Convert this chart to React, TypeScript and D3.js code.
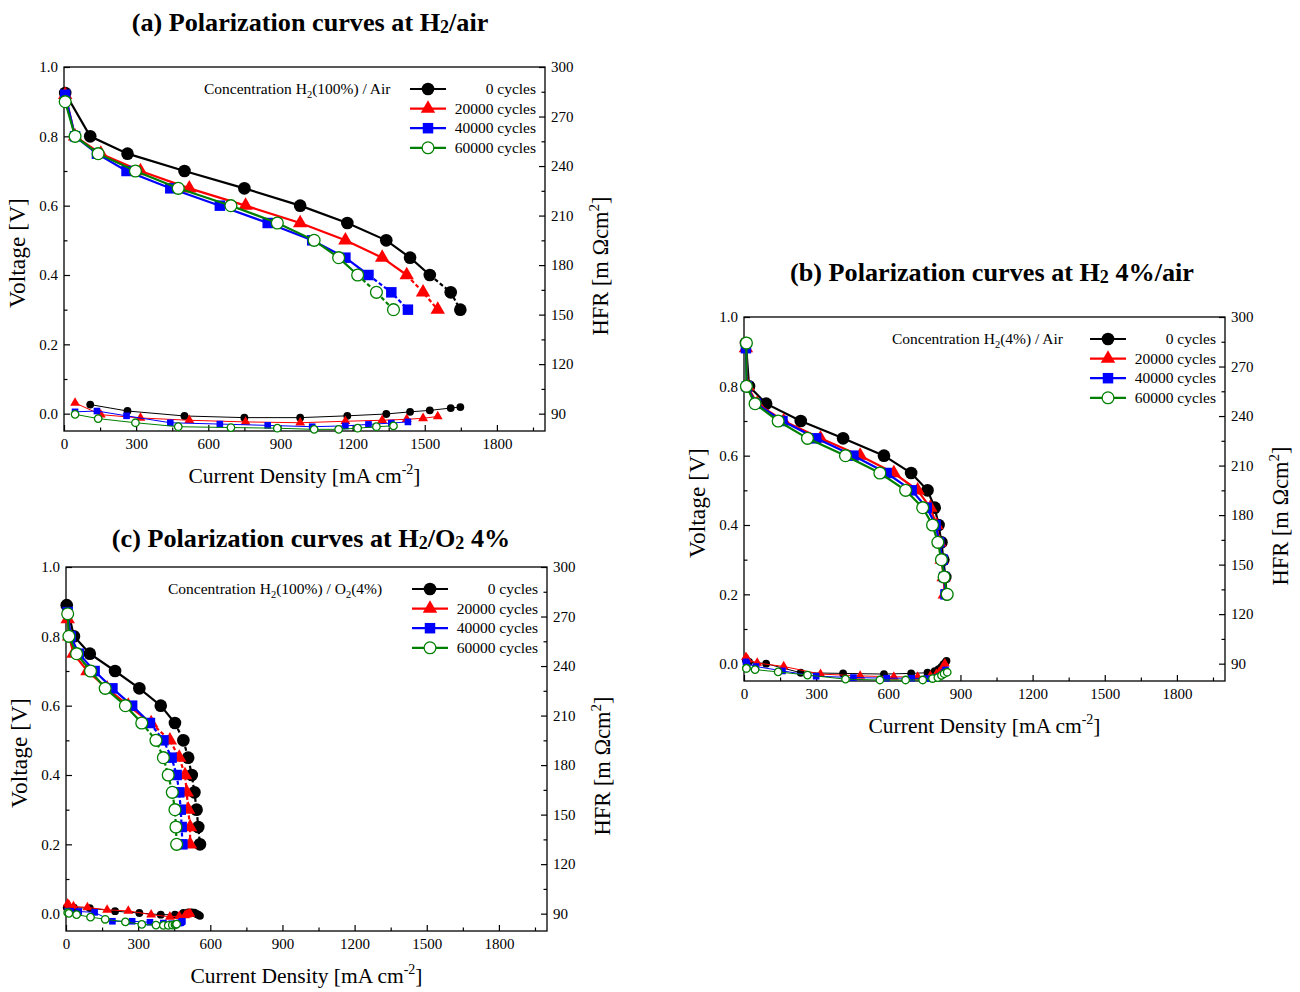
import React, { useEffect, useRef } from 'react';
import * as d3 from 'd3';

// shared series info
const seriesNames = ['0 cycles', '20000 cycles', '40000 cycles', '60000 cycles'];
const seriesColors = ['#000000', '#ff0000', '#0000ff', '#008000'];
const seriesShapes = ['circle', 'triangle', 'square', 'open'];

const xTicks = [0, 300, 600, 900, 1200, 1500, 1800];
const vTicks = [0.0, 0.2, 0.4, 0.6, 0.8, 1.0];
const hfrTicks = [90, 120, 150, 180, 210, 240, 270, 300];

// (a) H2/air  -- current [mA cm-2], voltage [V], HFR [mOhm cm2]
const aCurrent = [
  [5, 109, 264, 501, 750, 982, 1178, 1340, 1439, 1521, 1608, 1648],
  [5, 46, 153, 318, 521, 755, 982, 1170, 1323, 1425, 1493, 1554],
  [5, 46, 137, 260, 442, 648, 847, 1032, 1170, 1266, 1361, 1430],
  [5, 46, 142, 297, 475, 694, 887, 1040, 1142, 1221, 1299, 1370],
];
const aVoltage = [
  [0.925, 0.8, 0.75, 0.7, 0.65, 0.6, 0.55, 0.5, 0.45, 0.4, 0.35, 0.3],
  [0.92, 0.8, 0.75, 0.7, 0.65, 0.6, 0.55, 0.5, 0.45, 0.4, 0.35, 0.3],
  [0.92, 0.8, 0.75, 0.7, 0.65, 0.6, 0.55, 0.5, 0.45, 0.4, 0.35, 0.3],
  [0.9, 0.8, 0.75, 0.7, 0.65, 0.6, 0.55, 0.5, 0.45, 0.4, 0.35, 0.3],
];
const aHfr = [
  [null, 95.5, 91.6, 88.6, 87.6, 87.6, 88.7, 89.8, 91.1, 92.0, 93.4, 94.0],
  [null, 96.5, 89.4, 87.4, 86.0, 85.0, 84.5, 85.4, 86.0, 86.6, 87.2, 88.3],
  [null, 91.1, 91.6, 88.7, 84.5, 83.7, 82.9, 82.1, 82.6, 83.5, 84.3, 85.0],
  [null, 89.6, 87.0, 84.5, 82.1, 81.6, 81.2, 80.5, 80.5, 81.2, 82.1, 82.6],
];

// (b) H2 4%/air
const bCurrent = [
  [8, 21, 92, 236, 412, 582, 695, 763, 793, 809, 821, 829, 837, 842],
  [8, 15, 55, 165, 318, 483, 623, 722, 775, 800, 812, 822, 830, 835],
  [8, 12, 50, 160, 300, 455, 593, 697, 760, 797, 812, 826, 832, 838],
  [10, 10, 46, 142, 264, 422, 565, 672, 743, 784, 806, 821, 832, 845],
];
const bVoltage = [
  [0.925, 0.8, 0.75, 0.7, 0.65, 0.6, 0.55, 0.5, 0.45, 0.4, 0.35, 0.3, 0.25, 0.2],
  [0.91, 0.8, 0.75, 0.7, 0.65, 0.6, 0.55, 0.5, 0.45, 0.4, 0.35, 0.3, 0.25, 0.2],
  [0.91, 0.8, 0.75, 0.7, 0.65, 0.6, 0.55, 0.5, 0.45, 0.4, 0.35, 0.3, 0.25, 0.2],
  [0.925, 0.8, 0.75, 0.7, 0.65, 0.6, 0.55, 0.5, 0.45, 0.4, 0.35, 0.3, 0.25, 0.2],
];
const bHfr = [
  [92.1, 91.1, 90.0, 84.5, 84.1, 83.7, 84.1, 84.5, 85.4, 86.6, 88.1, 89.6, 90.6, 91.7],
  [94.0, 92.5, 90.4, 88.3, 83.7, 82.6, 82.0, 82.0, 82.6, 83.7, 85.0, 86.6, 88.3, 90.0],
  [91.1, 90.0, 88.3, 85.6, 82.4, 81.6, 81.2, 81.2, 81.0, 81.6, 82.4, 83.5, 84.8, 86.2],
  [87.3, 87.1, 86.4, 85.0, 83.1, 80.6, 80.1, 80.1, 80.1, 81.0, 81.6, 82.9, 83.9, 84.8],
];

// (c) H2/O2 4%
const cCurrent = [
  [3, 33, 99, 204, 305, 394, 453, 488, 508, 523, 534, 543, 550, 557],
  [7, 13, 31, 89, 171, 259, 354, 432, 471, 495, 502, 508, 516, 516],
  [7, 20, 53, 119, 193, 275, 349, 405, 439, 460, 471, 477, 481, 484],
  [7, 12, 44, 102, 163, 247, 315, 374, 405, 425, 442, 453, 457, 460],
];
const cVoltage = [
  [0.89, 0.8, 0.75, 0.7, 0.65, 0.6, 0.55, 0.5, 0.45, 0.4, 0.35, 0.3, 0.25, 0.2],
  [0.85, 0.8, 0.75, 0.7, 0.65, 0.6, 0.55, 0.5, 0.45, 0.4, 0.35, 0.3, 0.25, 0.2],
  [0.87, 0.8, 0.75, 0.7, 0.65, 0.6, 0.55, 0.5, 0.45, 0.4, 0.35, 0.3, 0.25, 0.2],
  [0.865, 0.8, 0.75, 0.7, 0.65, 0.6, 0.55, 0.5, 0.45, 0.4, 0.35, 0.3, 0.25, 0.2],
];
const cHfr = [
  [93.8, 93.6, 93.4, 91.5, 90.4, 89.4, 89.4, 90.4, 90.8, 90.8, 90.6, 89.8, 89.4, 88.7],
  [96.1, 95.0, 94.4, 93.8, 92.3, 91.7, 89.4, 88.1, 88.5, 89.0, 89.4, 89.8, 90.0, 90.0],
  [91.5, 91.5, 91.3, 90.8, 85.4, 85.4, 84.8, 84.3, 83.9, 83.9, 84.3, 84.5, 85.0, 85.4],
  [90.6, 90.2, 89.4, 87.9, 86.6, 85.0, 83.5, 83.1, 82.9, 82.9, 83.1, 83.3, 83.5, 83.7],
];

// text pieces, odd entries are subscripts
const aTitle = ['(a) Polarization curves at H', '2', '/air'];
const bTitle = ['(b) Polarization curves at H', '2', ' 4%/air'];
const cTitle = ['(c) Polarization curves at H', '2', '/O', '2', ' 4%'];
const aConc = ['Concentration H', '2', '(100%) / Air'];
const bConc = ['Concentration H', '2', '(4%) / Air'];
const cConc = ['Concentration H', '2', '(100%) / O', '2', '(4%)'];

const W = 481;
const H = 364;
const FONT = '"Liberation Serif", "Times New Roman", serif';

interface PanelSpec {
  left: number;
  top: number;
  titleX: number;
  titleY: number;
  title: string[];
  conc: string[];
  concX: number;
  current: number[][];
  voltage: number[][];
  hfr: (number | null)[][];
  dashBelow: number | null;
}

const panels: PanelSpec[] = [
  { left: 64, top: 67, titleX: 310, titleY: 31, title: aTitle, conc: aConc, concX: 140,
    current: aCurrent, voltage: aVoltage, hfr: aHfr, dashBelow: 0.4 },
  { left: 744, top: 317, titleX: 992, titleY: 281, title: bTitle, conc: bConc, concX: 148,
    current: bCurrent, voltage: bVoltage, hfr: bHfr, dashBelow: null },
  { left: 66, top: 567, titleX: 311, titleY: 547, title: cTitle, conc: cConc, concX: 102,
    current: cCurrent, voltage: cVoltage, hfr: cHfr, dashBelow: 0.55 },
];

function addPieces(text: any, parts: string[], subSize: number, dy: number) {
  parts.forEach((t, i) => {
    const sp = text.append('tspan').text(t);
    if (i % 2 === 1) sp.attr('font-size', subSize).attr('dy', dy);
    else if (i > 0) sp.attr('dy', -dy);
  });
}

function drawMarker(g: any, shape: string, color: string, cx: number, cy: number, big: boolean) {
  const sizes: Record<string, number> = big
    ? { circle: 125, triangle: 90, square: 110, open: 110 }
    : { circle: 48, triangle: 42, square: 44, open: 44 };
  const type = shape === 'triangle' ? d3.symbolTriangle : shape === 'square' ? d3.symbolSquare : d3.symbolCircle;
  g.append('path')
    .attr('d', d3.symbol().type(type).size(sizes[shape])())
    .attr('transform', `translate(${cx},${cy})`)
    .attr('fill', shape === 'open' ? '#ffffff' : color)
    .attr('stroke', shape === 'open' ? color : 'none')
    .attr('stroke-width', 1.3);
}

function drawPanel(root: any, p: PanelSpec) {
  const g = root.append('g');
  const x = d3.scaleLinear().domain([0, 2000]).range([p.left, p.left + W]);
  const y = d3.scaleLinear().domain([-0.05, 1]).range([p.top + H, p.top]);
  const yR = d3.scaleLinear().domain([79.5, 300]).range([p.top + H, p.top]);

  const styleAxis = (sel: any) => {
    sel.attr('font-family', FONT).attr('font-size', 15);
    sel.selectAll('text').attr('fill', '#000');
    sel.selectAll('line').attr('stroke', '#000').attr('stroke-width', 1.2);
    sel.select('.domain').remove();
  };

  // major + minor ticks
  g.append('g').attr('transform', `translate(0,${p.top + H})`)
    .call(d3.axisBottom(x).tickValues(xTicks).tickSize(-6).tickSizeOuter(0).tickPadding(7).tickFormat(d3.format('d')))
    .call(styleAxis);
  g.append('g').attr('transform', `translate(0,${p.top + H})`)
    .call(d3.axisBottom(x).tickValues(d3.range(150, 2000, 300)).tickSize(-3.5).tickFormat(() => ''))
    .call(styleAxis);
  g.append('g').attr('transform', `translate(${p.left},0)`)
    .call(d3.axisLeft(y).tickValues(vTicks).tickSize(-6).tickPadding(6).tickFormat(d3.format('.1f')))
    .call(styleAxis);
  g.append('g').attr('transform', `translate(${p.left},0)`)
    .call(d3.axisLeft(y).tickValues([0.1, 0.3, 0.5, 0.7, 0.9]).tickSize(-3.5).tickFormat(() => ''))
    .call(styleAxis);
  g.append('g').attr('transform', `translate(${p.left + W},0)`)
    .call(d3.axisRight(yR).tickValues(hfrTicks).tickSize(-6).tickPadding(6).tickFormat(d3.format('d')))
    .call(styleAxis);
  g.append('g').attr('transform', `translate(${p.left + W},0)`)
    .call(d3.axisRight(yR).tickValues(d3.range(105, 300, 30)).tickSize(-3.5).tickFormat(() => ''))
    .call(styleAxis);

  g.append('rect')
    .attr('x', p.left).attr('y', p.top).attr('width', W).attr('height', H)
    .attr('fill', 'none').attr('stroke', '#000').attr('stroke-width', 1.3);

  // titles
  const t = g.append('text').attr('x', p.titleX).attr('y', p.titleY)
    .attr('text-anchor', 'middle').attr('font-family', FONT).attr('font-weight', 'bold').attr('font-size', 26.2);
  addPieces(t, p.title, 18, 2);

  g.append('text')
    .attr('x', p.left + W / 2).attr('y', p.top + H + 52)
    .attr('text-anchor', 'middle').attr('font-family', FONT).attr('font-size', 21.5)
    .call((s: any) => {
      s.append('tspan').text('Current Density [mA cm');
      s.append('tspan').text('-2').attr('font-size', 14).attr('dy', -9);
      s.append('tspan').text(']').attr('dy', 9);
    });

  g.append('text')
    .attr('transform', `translate(${p.left - 39},${p.top + 186}) rotate(-90)`)
    .attr('text-anchor', 'middle').attr('font-family', FONT).attr('font-size', 23.5)
    .text('Voltage [V]');

  g.append('text')
    .attr('transform', `translate(${p.left + W + 63},${p.top + 199}) rotate(-90)`)
    .attr('text-anchor', 'middle').attr('font-family', FONT).attr('font-size', 22.5)
    .call((s: any) => {
      s.append('tspan').text('HFR [m  Ωcm');
      s.append('tspan').text('2').attr('font-size', 15).attr('dy', -9);
      s.append('tspan').text(']').attr('dy', 9);
    });

  // data
  const line = d3.line<[number, number]>().x(d => x(d[0])).y(d => y(d[1]));
  const lineR = d3.line<[number, number]>().x(d => x(d[0])).y(d => yR(d[1]));

  seriesNames.forEach((_, s) => {
    const color = seriesColors[s];
    const hpts: [number, number][] = [];
    p.current[s].forEach((c, i) => {
      const h = p.hfr[s][i];
      if (h !== null && h !== undefined) hpts.push([c, h]);
    });
    g.append('path').attr('d', lineR(hpts)).attr('fill', 'none').attr('stroke', color).attr('stroke-width', 1);
    hpts.forEach(d => drawMarker(g, seriesShapes[s], color, x(d[0]), yR(d[1]), false));
  });

  seriesNames.forEach((_, s) => {
    const color = seriesColors[s];
    const pts: [number, number][] = p.current[s].map((c, i) => [c, p.voltage[s][i]]);
    if (p.dashBelow === null) {
      g.append('path').attr('d', line(pts)).attr('fill', 'none').attr('stroke', color).attr('stroke-width', 2.2);
    } else {
      const solid = pts.filter(d => d[1] >= p.dashBelow! - 1e-9);
      const dashed = pts.filter(d => d[1] <= p.dashBelow! + 1e-9);
      g.append('path').attr('d', line(solid)).attr('fill', 'none').attr('stroke', color).attr('stroke-width', 2.2);
      g.append('path').attr('d', line(dashed)).attr('fill', 'none').attr('stroke', color)
        .attr('stroke-width', 2.2).attr('stroke-dasharray', '4,2.5');
    }
    pts.forEach(d => drawMarker(g, seriesShapes[s], color, x(d[0]), y(d[1]), true));
  });

  // legend
  const ly0 = p.top + 22;
  const conc = g.append('text').attr('x', p.left + p.concX).attr('y', ly0 + 5)
    .attr('font-family', FONT).attr('font-size', 15.5);
  addPieces(conc, p.conc, 10.5, 4);
  seriesNames.forEach((name, s) => {
    const ly = ly0 + s * 19.6;
    g.append('line').attr('x1', p.left + 346).attr('x2', p.left + 382).attr('y1', ly).attr('y2', ly)
      .attr('stroke', seriesColors[s]).attr('stroke-width', 2.2);
    drawMarker(g, seriesShapes[s], seriesColors[s], p.left + 364, ly, true);
    g.append('text').attr('x', p.left + 472).attr('y', ly + 5)
      .attr('text-anchor', 'end').attr('font-family', FONT).attr('font-size', 15.5).text(name);
  });
}

export default function App() {
  const svgRef = useRef<SVGSVGElement>(null);

  useEffect(() => {
    if (!svgRef.current) return;
    const svg = d3.select(svgRef.current);
    svg.selectAll('*').remove();
    svg.append('rect').attr('width', 1300).attr('height', 992).attr('fill', '#ffffff');
    panels.forEach(p => drawPanel(svg, p));
  }, []);

  return (
    <svg
      ref={svgRef}
      width={1300}
      height={992}
      style={{ position: 'absolute', left: 0, top: 0, background: '#fff' }}
    />
  );
}
